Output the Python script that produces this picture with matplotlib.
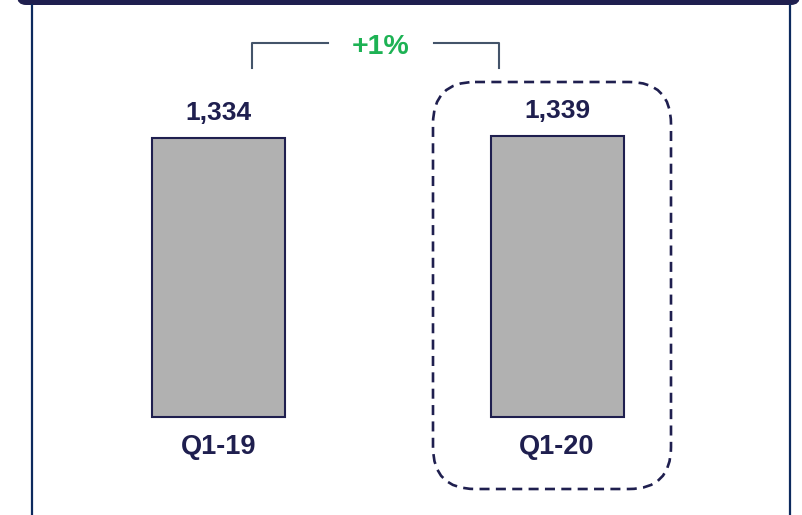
import matplotlib.pyplot as plt
from matplotlib.patches import FancyBboxPatch

# data
quarters = ["Q1-19", "Q1-20"]
values = [1334, 1339]
value_labels = ["1,334", "1,339"]
change_label = "+1%"

navy = "#1f1f4f"
frame_blue = "#0d2a5e"
bar_grey = "#b1b1b1"
green = "#1db254"
bracket_col = "#44546a"

W, H = 802, 515
fig = plt.figure(figsize=(W / 100, H / 100), dpi=100)
plt.rcParams["font.family"] = ["Liberation Sans", "DejaVu Sans"]

# decoration layer in pixel coordinates
deco = fig.add_axes([0, 0, 1, 1])
deco.set_xlim(0, W)
deco.set_ylim(H, 0)
deco.axis("off")

# frame: top bar and side lines
deco.add_patch(FancyBboxPatch((17, -20), 783, 25, boxstyle="round,pad=0,rounding_size=9",
                              fc=navy, ec="none"))
deco.plot([32, 32], [4, H], color=frame_blue, lw=1.6, solid_capstyle="butt")
deco.plot([790, 790], [4, H], color=frame_blue, lw=1.6, solid_capstyle="butt")

# bracket with growth label
deco.plot([252, 252, 328], [68, 43, 43], color=bracket_col, lw=1.5, solid_joinstyle="round")
deco.plot([434, 499, 499], [43, 43, 68], color=bracket_col, lw=1.5, solid_joinstyle="round")
deco.text(381, 47, change_label, color=green, fontsize=20.5, fontweight="bold",
          ha="center", va="center")

# dashed highlight around latest quarter
deco.add_patch(FancyBboxPatch((433, 82), 238, 407, boxstyle="round,pad=0,rounding_size=42",
                              fc="none", ec=navy, lw=1.9, linestyle=(0, (3.8, 2.4))))

# bar layer
ax = fig.add_axes([0, 0, 1, 1])
ax.patch.set_alpha(0)
ax.axis("off")
k = 280 / 1336.5          # pixels per unit
span = 338.5              # pixels between bar centres
ax.set_ylim(-98 / k, (H - 98) / k)
ax.set_xlim(-218.5 / span, (W - 218.5) / span)

pos = list(range(len(quarters)))
ax.bar(pos, values, width=133 / span, color=bar_grey, edgecolor=navy, linewidth=1.5)

for i in pos:
    ax.annotate(value_labels[i], (i, values[i]), xytext=(0, 25), textcoords="offset pixels",
                ha="center", va="center", fontsize=19, fontweight="bold", color=navy)
    ax.annotate(quarters[i], (i, 0), xytext=(0, -30), textcoords="offset pixels",
                ha="center", va="center", fontsize=19.5, fontweight="bold", color=navy)

fig.savefig("out.png", dpi=100)
